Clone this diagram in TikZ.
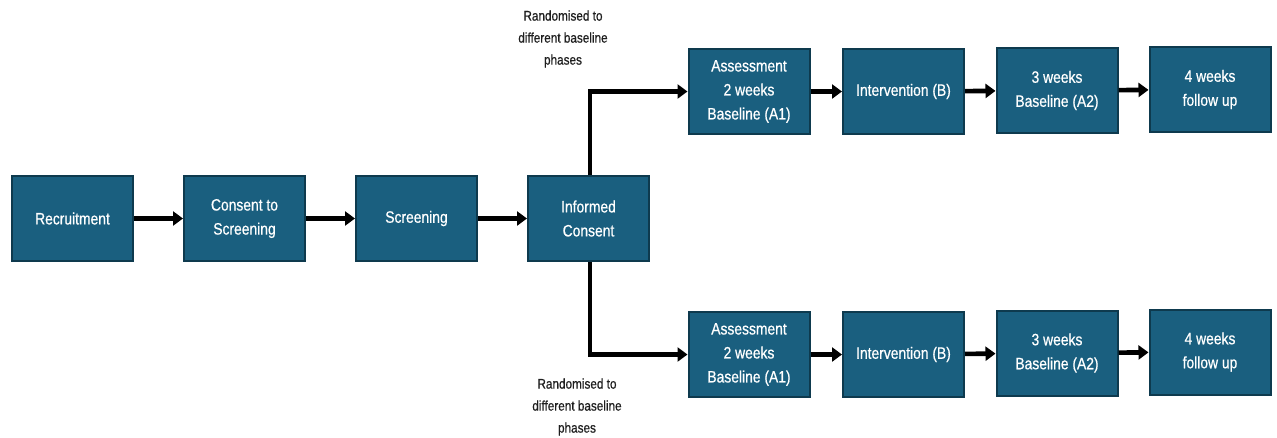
\documentclass[tikz,border=0pt]{standalone}
\usepackage{fontspec}
\setmainfont{Liberation Sans}[FakeStretch=0.84,FakeBold=0.6]
\usetikzlibrary{arrows.meta}
\definecolor{boxfill}{HTML}{1A5F7F}
\definecolor{boxline}{HTML}{0E3A4E}
\definecolor{labeltext}{HTML}{1E1E1E}
\tikzset{
  stepbox/.style={draw=boxline, line width=2pt, fill=boxfill, text=white,
    minimum width=121pt, minimum height=85pt, align=center,
    font=\fontsize{16.5}{24}\selectfont, inner sep=2pt},
  conn/.style={line width=4.6pt, -{Triangle[length=10pt,width=14pt]}},
  note/.style={align=center, text=labeltext, font=\fontsize{14}{22}\selectfont}
}
\begin{document}
\begin{tikzpicture}[x=1pt,y=1pt]
\useasboundingbox (0,0) rectangle (1277,-437);
\node[stepbox] (rec) at (72.5,-218.5) {Recruitment};
\node[stepbox] (cons) at (244.5,-218.5) {Consent to\\Screening};
\node[stepbox] (scr) at (416.5,-218.5) {Screening};
\node[stepbox] (inf) at (588.5,-218.5) {Informed\\Consent};
\node[stepbox] (a1t) at (749,-91.5) {Assessment\\2 weeks\\Baseline (A1)};
\node[stepbox] (ibt) at (903.5,-91.5) {Intervention (B)};
\node[stepbox] (a2t) at (1057,-90.5) {3 weeks\\Baseline (A2)};
\node[stepbox] (fut) at (1210,-89.5) {4 weeks\\follow up};
\node[stepbox] (a1b) at (749,-354.5) {Assessment\\2 weeks\\Baseline (A1)};
\node[stepbox] (ibb) at (903.5,-354.5) {Intervention (B)};
\node[stepbox] (a2b) at (1057,-353) {3 weeks\\Baseline (A2)};
\node[stepbox] (fub) at (1210,-352) {4 weeks\\follow up};
\node[note] (lt) at (563,-39) {Randomised to\\different baseline\\phases};
\node[note] (lb) at (577,-407) {Randomised to\\different baseline\\phases};
\draw[conn] (rec) -- (cons);
\draw[conn] (cons) -- (scr);
\draw[conn] (scr) -- (inf);
\draw[conn] ([xshift=1.5pt]inf.north) |- (a1t.west);
\draw[conn] ([xshift=1.5pt]inf.south) |- (a1b.west);
\draw[conn] (a1t) -- (ibt);
\draw[conn] (ibt) -- (a2t);
\draw[conn] (a2t) -- (fut);
\draw[conn] (a1b) -- (ibb);
\draw[conn] (ibb) -- (a2b);
\draw[conn] (a2b) -- (fub);
\end{tikzpicture}
\end{document}
